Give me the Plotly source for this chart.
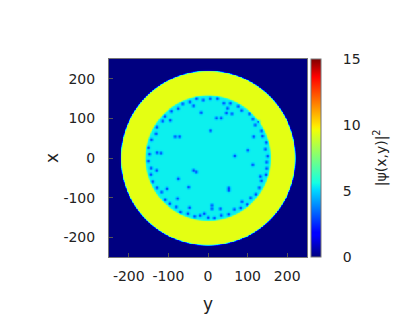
import numpy as np
import plotly.graph_objects as go

# niveles de densidad |psi|^2
dens_anillo = 9.4
dens_centro = 5.4
dens_vortice = 3.0
r_exterior = 220
r_interior = 158

# vortices del interior (coordenada horizontal "y", vertical "x")
vort_y = [-18, 6, 21, 33, 46, 60, 49, -83, -72, -129, -119, 67, 100, 113,
          -37, -30, -75, -49, 52, 52, -104, -77, -47, 10, 10, 31, 132, -130,
          -37, 115, -95, 85, -10, 128]
vort_x = [115, 69, 101, 101, 114, 112, 126, 54, 54, 14, 13, 6, 20, -17,
          -31, -35, -52, -73, -75, -81, -77, -102, -125, -119, -128, -128, -46, -31,
          132, 54, 95, -110, -140, 92]

# vortices pegados al borde del disco interior (angulo en grados, radio)
borde_ang = [2, 9, 15, 22, 27, 35, 41, 47, 55, 60, 68, 74, 81, 88, 95, 101,
             108, 115, 121, 128, 136, 141, 149, 155, 162, 170, 176, 183, 190,
             196, 203, 210, 216, 224, 230, 237, 243, 250, 257, 262, 270, 276,
             283, 290, 297, 303, 310, 317, 323, 330, 337, 344, 350, 356]
borde_r = [150, 146, 152, 148, 151, 145, 150, 153, 147, 151, 149, 144, 152,
           150, 147, 153, 149, 151, 146, 150, 152, 148, 151, 145, 150, 153,
           148, 151, 146, 150, 152, 149, 145, 151, 150, 147, 153, 149, 151,
           146, 150, 152, 148, 151, 145, 150, 153, 147, 151, 149, 146, 152,
           150, 148]

ticks_ejes = [-200, -100, 0, 100, 200]
ticks_texto = ["-200", "-100", "0", "100", "200"]

ejes = np.linspace(-250, 250, 301)
H, V = np.meshgrid(ejes, ejes)
R = np.hypot(H, V)

# perfil radial: anillo + disco central con bordes suaves
z = dens_anillo * 0.5 * (1 - np.tanh((R - r_exterior) / 1.5))
z = z + (dens_centro - dens_anillo) * 0.5 * (1 - np.tanh((R - r_interior) / 1.5))

centros = list(zip(vort_y, vort_x))
for a, r in zip(borde_ang, borde_r):
    centros.append((r * np.cos(np.radians(a)), r * np.sin(np.radians(a))))

prof = 1 - dens_vortice / dens_centro
for cy, cx in centros:
    z = z * (1 - prof * np.exp(-((H - cy) ** 2 + (V - cx) ** 2) / (2 * 2.8 ** 2)))

jet = [
    [0.0, "rgb(0,0,128)"], [0.11, "rgb(0,0,255)"], [0.125, "rgb(0,0,255)"],
    [0.34, "rgb(0,219,255)"], [0.375, "rgb(21,255,226)"], [0.64, "rgb(239,255,8)"],
    [0.66, "rgb(255,236,0)"], [0.89, "rgb(255,19,0)"], [0.91, "rgb(255,0,0)"],
    [1.0, "rgb(128,0,0)"],
]

fuente = dict(family="DejaVu Sans", size=14, color="#222222")

fig = go.Figure(go.Heatmap(
    x=ejes, y=ejes, z=z,
    zmin=0, zmax=15,
    colorscale=jet,
    colorbar=dict(
        x=1.02, xanchor="left", y=0.5, yanchor="middle", len=1, lenmode="fraction",
        xpad=0, ypad=0,
        thickness=10, outlinewidth=1, outlinecolor="#777777",
        tickvals=[0, 5, 10, 15], ticks="outside", ticklen=19,
        tickcolor="rgba(0,0,0,0)", tickfont=fuente,
    ),
    hovertemplate="y=%{x:.0f}<br>x=%{y:.0f}<br>|ψ|²=%{z:.2f}<extra></extra>",
))

# la pagina añade 8 px de margen al body: figura de 407x324
fig.update_layout(
    width=407, height=324,
    margin=dict(l=101, r=108, t=51, b=75, autoexpand=False),
    paper_bgcolor="white", plot_bgcolor="white",
    font=fuente,
    xaxis=dict(
        range=[-250, 250], tickvals=ticks_ejes, ticktext=ticks_texto, tickangle=0,
        ticks="inside", ticklen=4, tickcolor="#555555", automargin=False,
        showline=True, mirror=True, linecolor="#777777",
        showgrid=False, zeroline=False, ticklabelstandoff=6,
        title=dict(text="y", standoff=15),
    ),
    yaxis=dict(
        range=[-250, 250], tickvals=ticks_ejes, ticktext=ticks_texto,
        ticks="inside", ticklen=4, tickcolor="#555555", automargin=False,
        showline=True, mirror=True, linecolor="#777777",
        showgrid=False, zeroline=False, ticklabelstandoff=10,
        title=dict(text="x", standoff=0),
    ),
    annotations=[dict(
        text="|ψ(x,y)|<sup>2</sup>", textangle=-90, showarrow=False,
        xref="paper", yref="paper", x=1.37, y=0.5,
        xanchor="center", yanchor="middle", font=fuente,
    )],
)

fig.write_html("out.html")
